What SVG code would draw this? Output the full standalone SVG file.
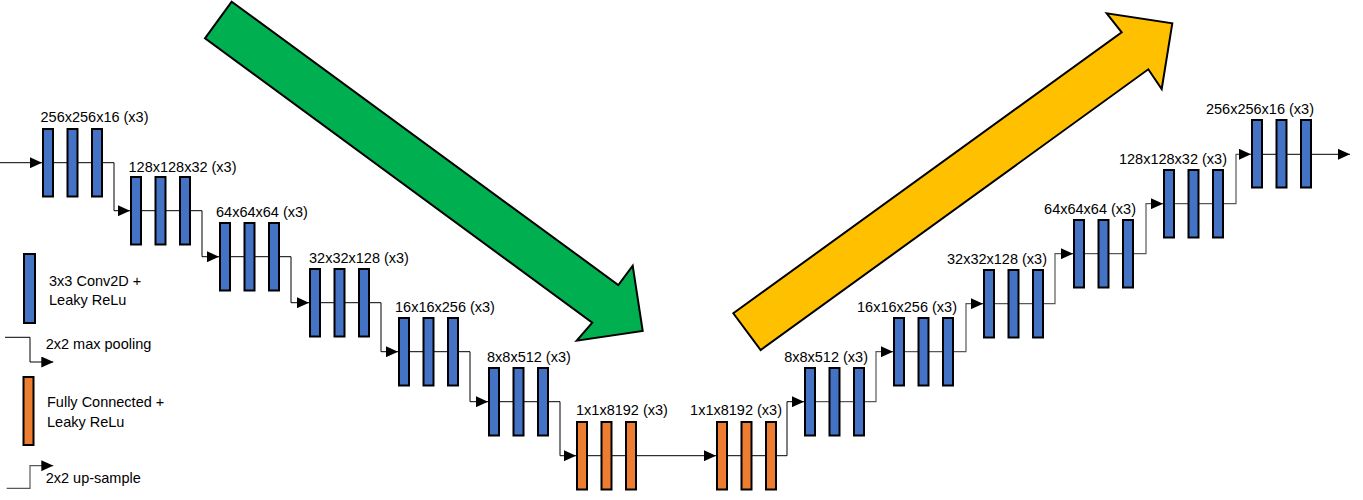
<svg xmlns="http://www.w3.org/2000/svg" width="1363" height="500" viewBox="0 0 1363 500">
<style>
text{font-family:"Liberation Sans",Arial,sans-serif;font-size:14.5px;fill:#000}
.e{text-anchor:end}
.b{fill:#4472c4;stroke:#000;stroke-width:2}
.o{fill:#ed7d31;stroke:#000;stroke-width:2}
.ln{fill:none;stroke:#000;stroke-width:1}
.lg{fill:none;stroke:#595959;stroke-width:1.2}
.arr{stroke:#000;stroke-width:2;stroke-linejoin:miter}
</style>
<defs>
<marker id="ah" markerUnits="userSpaceOnUse" markerWidth="12" markerHeight="11" refX="12" refY="5.5" orient="auto">
<path d="M0,0 L12,5.5 L0,11 z" fill="#000"/>
</marker>
<g id="st">
<rect x="1" y="1" width="10" height="67.5"/>
<rect x="25.5" y="1" width="10" height="67.5"/>
<rect x="50" y="1" width="10" height="67.5"/>
</g>
</defs>
<g id="big-arrows">
<polygon class="arr" fill="#00b050" points="231.7,1.7 618.3,285 632.7,265.7 642.7,331 576.7,340.7 592.3,322.7 205,38.3"/>
<polygon class="arr" fill="#ffc000" points="733.3,313.3 1121.7,32.3 1106.7,13.3 1172.3,23.3 1161.7,89 1148.3,69.3 760.7,350"/>
</g>
<g id="connectors">
<path class="ln" d="M0,162.7 H42" marker-end="url(#ah)"/>
<path class="ln" d="M42,162.7 H103"/>
<path class="ln" d="M103,162.7 H114 V210.7 H130" marker-end="url(#ah)"/>
<path class="ln" d="M130,210.7 H191"/>
<path class="ln" d="M191,210.7 H202 V256.7 H219" marker-end="url(#ah)"/>
<path class="ln" d="M219,256.7 H280"/>
<path class="ln" d="M280,256.7 H291 V302.7 H309" marker-end="url(#ah)"/>
<path class="ln" d="M309,302.7 H370"/>
<path class="ln" d="M370,302.7 H381 V351.7 H398" marker-end="url(#ah)"/>
<path class="ln" d="M398,351.7 H459"/>
<path class="ln" d="M459,351.7 H470 V401.7 H488" marker-end="url(#ah)"/>
<path class="ln" d="M488,401.7 H549"/>
<path class="ln" d="M549,401.7 H560 V455.7 H576" marker-end="url(#ah)"/>
<path class="ln" d="M576,455.7 H637"/>
<path class="ln" d="M637,455.7 H716" marker-end="url(#ah)"/>
<path class="ln" d="M716,455.7 H777"/>
<path class="ln" d="M777,455.7 H787 V401.7 H804" marker-end="url(#ah)"/>
<path class="lg" d="M804,401.7 H865"/>
<path class="lg" d="M865,401.7 H876 V351.7 H893" marker-end="url(#ah)"/>
<path class="lg" d="M893,351.7 H954"/>
<path class="lg" d="M954,351.7 H966 V303.7 H983" marker-end="url(#ah)"/>
<path class="lg" d="M983,303.7 H1044"/>
<path class="lg" d="M1044,303.7 H1055 V253.7 H1073" marker-end="url(#ah)"/>
<path class="lg" d="M1073,253.7 H1134"/>
<path class="lg" d="M1134,253.7 H1146 V203.7 H1163" marker-end="url(#ah)"/>
<path class="lg" d="M1163,203.7 H1224"/>
<path class="lg" d="M1224,203.7 H1236 V154.3 H1251" marker-end="url(#ah)"/>
<path class="ln" d="M1251,154.3 H1312"/>
<path class="ln" d="M1312,154.3 H1350" marker-end="url(#ah)"/>
</g>
<g id="s1"><use href="#st" class="b" x="42" y="128"/><text x="40.5" y="122">256x256x16 (x3)</text></g>
<g id="s2"><use href="#st" class="b" x="130" y="176"/><text x="128.5" y="171.5">128x128x32 (x3)</text></g>
<g id="s3"><use href="#st" class="b" x="219" y="222"/><text x="216" y="217">64x64x64 (x3)</text></g>
<g id="s4"><use href="#st" class="b" x="309" y="268"/><text x="309" y="263">32x32x128 (x3)</text></g>
<g id="s5"><use href="#st" class="b" x="398" y="317"/><text x="395" y="312">16x16x256 (x3)</text></g>
<g id="s6"><use href="#st" class="b" x="488" y="367"/><text x="487" y="362">8x8x512 (x3)</text></g>
<g id="s7"><use href="#st" class="o" x="576" y="421"/><text x="576" y="415">1x1x8192 (x3)</text></g>
<g id="s8"><use href="#st" class="o" x="716" y="421"/><text class="e" x="782" y="415">1x1x8192 (x3)</text></g>
<g id="s9"><use href="#st" class="b" x="804" y="367"/><text class="e" x="868" y="362">8x8x512 (x3)</text></g>
<g id="s10"><use href="#st" class="b" x="893" y="317"/><text class="e" x="957" y="312">16x16x256 (x3)</text></g>
<g id="s11"><use href="#st" class="b" x="983" y="269"/><text class="e" x="1047" y="264">32x32x128 (x3)</text></g>
<g id="s12"><use href="#st" class="b" x="1073" y="219"/><text class="e" x="1136" y="214">64x64x64 (x3)</text></g>
<g id="s13"><use href="#st" class="b" x="1163" y="169"/><text class="e" x="1227" y="164">128x128x32 (x3)</text></g>
<g id="s14"><use href="#st" class="b" x="1251" y="119"/><text class="e" x="1314" y="114">256x256x16 (x3)</text></g>
<g id="legend">
<rect class="b" x="24" y="254" width="11" height="69"/>
<text x="49" y="285.7">3x3 Conv2D +</text>
<text x="49" y="305">Leaky ReLu</text>
<path class="ln" d="M5,337.3 H30 V362 H53.3" marker-end="url(#ah)"/>
<text x="45.7" y="349">2x2 max pooling</text>
<rect class="o" x="23.5" y="377" width="10" height="68"/>
<text x="47" y="406.7">Fully Connected +</text>
<text x="47" y="427.3">Leaky ReLu</text>
<path class="lg" d="M6.7,488.3 H30 V465.7 H53.3" marker-end="url(#ah)"/>
<text x="45.7" y="483.3">2x2 up-sample</text>
</g>
</svg>
